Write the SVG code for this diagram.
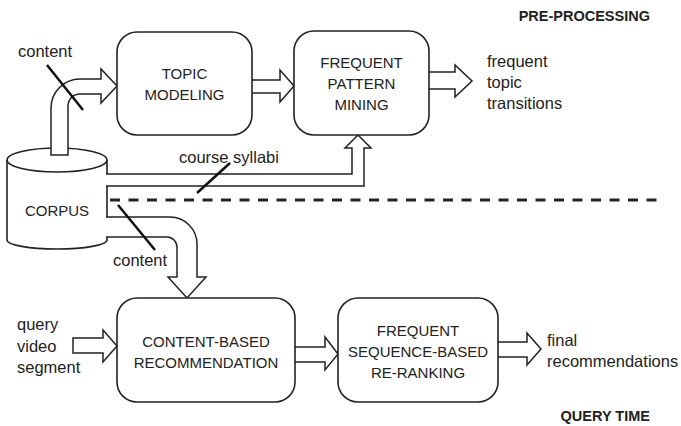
<svg xmlns="http://www.w3.org/2000/svg" width="681" height="426" viewBox="0 0 681 426">
<style>
.box{fill:#fff;stroke:#222;stroke-width:1.6}
.arr{fill:#fff;stroke:#222;stroke-width:1.5;stroke-linejoin:miter}
.t{font-family:"Liberation Sans",Arial,sans-serif;font-size:15px;fill:#222}
.l{font-size:16.5px}
.c{text-anchor:middle}
.b{font-weight:bold;font-size:14.5px;text-anchor:end}
.slash{stroke:#111;stroke-width:2.5}
</style>
<rect width="681" height="426" fill="#fff"/>
<text class="t b" x="650" y="21">PRE-PROCESSING</text>
<text class="t b" x="650" y="421">QUERY TIME</text>
<line x1="110" y1="200" x2="665" y2="200" stroke="#222" stroke-width="3" stroke-dasharray="10,8.5"/>
<g id="corpus">
<path class="box" d="M7 160 L7 240 A50 9 0 0 0 107 240 L107 160"/>
<ellipse class="box" cx="57" cy="160" rx="50" ry="12"/>
<text class="t c" x="57" y="216">CORPUS</text>
</g>
<g id="connectors">
<path class="arr" d="M51 155 L51 108 A29 29 0 0 1 80 79 L101 79 L101 69 L117 86 L101 103 L101 94 L80 94 A12 12 0 0 0 68 106 L68 155 Z"/>
<path class="arr" d="M252 80 L280 80 L280 70 L294 86 L280 102 L280 93 L252 93"/>
<path class="arr" d="M429 72 L455 72 L455 65 L472 81 L455 97 L455 89 L429 89"/>
<path class="arr" d="M106 174 L352 174 L352 148 L345 148 L358 135 L371 148 L364 148 L364 186 L106 186"/>
<path class="arr" d="M106 217 L170 217 A27 27 0 0 1 197 244 L197 277 L206 277 L187 298 L168 277 L177 277 L177 247 A10 10 0 0 0 167 237 L106 237"/>
<path class="arr" d="M73 338 L103 338 L103 330 L117 346 L103 362 L103 353 L73 353 Z"/>
<path class="arr" d="M295 347 L325 347 L325 337 L338 354 L325 370 L325 362 L295 362"/>
<path class="arr" d="M498 342 L527 342 L527 333 L541 349 L527 365 L527 357 L498 357"/>
<line class="slash" x1="47" y1="65" x2="83" y2="110"/>
<line class="slash" x1="197" y1="193" x2="230" y2="163"/>
<line class="slash" x1="118" y1="205" x2="155" y2="250"/>
<text class="t l" x="18" y="57">content</text>
<text class="t l" x="179" y="163">course syllabi</text>
<text class="t l" x="113" y="266">content</text>
<text class="t l" x="487" y="67">frequent</text>
<text class="t l" x="487" y="88">topic</text>
<text class="t l" x="487" y="109">transitions</text>
<text class="t l" x="17" y="330">query</text>
<text class="t l" x="17" y="352">video</text>
<text class="t l" x="17" y="373">segment</text>
<text class="t l" x="547" y="346">final</text>
<text class="t l" x="547" y="367">recommendations</text>
</g>
<g id="topic-modeling">
<rect class="box" x="117" y="32" width="135" height="103" rx="20"/>
<text class="t c" x="184.5" y="79">TOPIC</text>
<text class="t c" x="184.5" y="100">MODELING</text>
</g>
<g id="frequent-pattern-mining">
<rect class="box" x="294" y="31" width="135" height="104" rx="20"/>
<text class="t c" x="361.5" y="68">FREQUENT</text>
<text class="t c" x="361.5" y="89">PATTERN</text>
<text class="t c" x="361.5" y="110">MINING</text>
</g>
<g id="content-based-recommendation">
<rect class="box" x="117" y="298" width="178" height="104" rx="20"/>
<text class="t c" x="206" y="347">CONTENT-BASED</text>
<text class="t c" x="206" y="368">RECOMMENDATION</text>
</g>
<g id="frequent-sequence-reranking">
<rect class="box" x="338" y="298" width="160" height="104" rx="20"/>
<text class="t c" x="418" y="336">FREQUENT</text>
<text class="t c" x="418" y="357">SEQUENCE-BASED</text>
<text class="t c" x="418" y="378">RE-RANKING</text>
</g>
</svg>
